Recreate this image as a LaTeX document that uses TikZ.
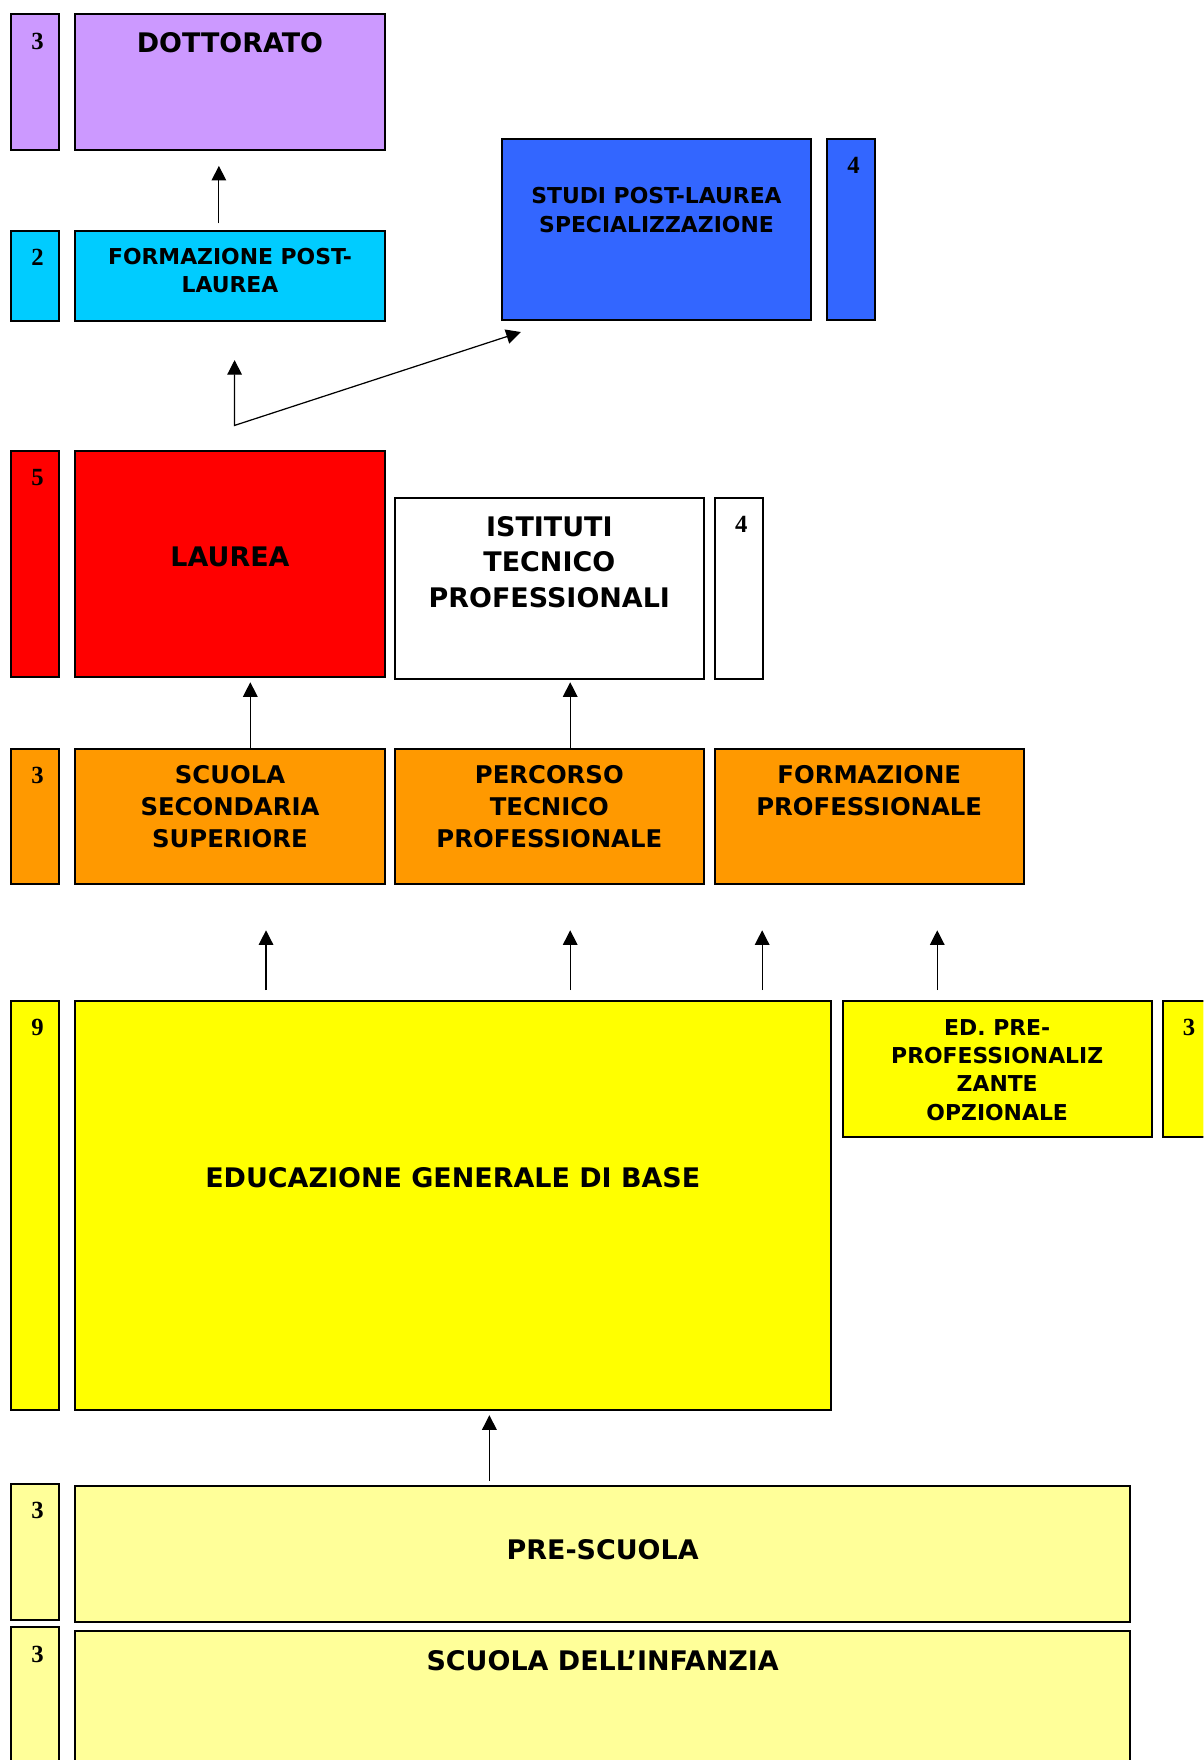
\documentclass[tikz,border=0pt]{standalone}
\usepackage{fontspec}
\setmainfont{DejaVu Sans}
\newfontfamily\numfont{Liberation Serif}
\usetikzlibrary{arrows.meta}

\begin{document}
\begin{tikzpicture}[x=1pt, y=-1pt,
    >={Triangle[length=13pt, width=13pt]},
    box/.style={draw=black, line width=1.8pt, anchor=north west, inner sep=0pt},
    years/.style={box, minimum width=43, minimum height=#1},
    bigtxt/.style={anchor=north, inner sep=0pt, align=center, font=\bfseries\fontsize{24}{31.5}\selectfont},
    midtxt/.style={bigtxt, font=\bfseries\fontsize{21.7}{28.2}\selectfont},
    smalltxt/.style={bigtxt, font=\bfseries\fontsize{19.5}{25.2}\selectfont},
    numtxt/.style={anchor=north, inner sep=0pt, xshift=2pt, yshift=-17pt, font=\numfont\bfseries\fontsize{22}{22}\selectfont},
    arr/.style={->, line width=1.1pt}
]

    % Colors for the boxes
    \definecolor{lilac}{RGB}{204,153,255}
    \definecolor{turquoise}{RGB}{0,204,255}
    \definecolor{royalblue}{RGB}{51,102,255}
    \definecolor{laureared}{RGB}{255,0,0}
    \definecolor{sunorange}{RGB}{255,153,0}
    \definecolor{brightyellow}{RGB}{255,255,0}
    \definecolor{paleyellow}{RGB}{255,255,153}

    \useasboundingbox (0,0) rectangle (1072,1568);
    \clip (0,0) rectangle (1072,1568);
    \fill[white] (0,0) rectangle (1072,1568);

    % DOTTORATO
    \node[years=121, fill=lilac, label={[numtxt]north:3}] (dottoratoanni) at (9,12) {};
    \node[box, fill=lilac, minimum width=276, minimum height=121,
        label={[bigtxt, yshift=-17pt]north:DOTTORATO}] (dottorato) at (66,12) {};

    % FORMAZIONE POST-LAUREA
    \node[years=80, fill=turquoise, label={[numtxt]north:2}] (formazioneanni) at (9,205) {};
    \node[box, fill=turquoise, minimum width=276, minimum height=80,
        label={[smalltxt, yshift=-16pt]north:FORMAZIONE POST-\\LAUREA}] (formazione) at (66,205) {};

    % STUDI POST-LAUREA
    \node[box, fill=royalblue, minimum width=276, minimum height=161,
        label={[smalltxt, yshift=-44pt]north:STUDI POST-LAUREA\\SPECIALIZZAZIONE}] (studi) at (446,123) {};
    \node[years=161, fill=royalblue, label={[numtxt]north:4}] (studianni) at (736,123) {};

    % LAUREA
    \node[years=201, fill=laureared, label={[numtxt]north:5}] (laureaanni) at (9,401) {};
    \node[box, fill=laureared, minimum width=276, minimum height=201,
        label={[bigtxt, yshift=-86pt]north:LAUREA}] (laurea) at (66,401) {};

    % ISTITUTI TECNICO PROFESSIONALI
    \node[box, fill=white, minimum width=275, minimum height=161,
        label={[bigtxt, yshift=-17pt]north:ISTITUTI\\TECNICO\\PROFESSIONALI}] (istituti) at (351,443) {};
    \node[years=161, fill=white, label={[numtxt]north:4}] (istitutianni) at (636,443) {};

    % Secondo ciclo
    \node[years=121, fill=sunorange, label={[numtxt]north:3}] (secondariaanni) at (9,666) {};
    \node[box, fill=sunorange, minimum width=276, minimum height=121,
        label={[midtxt, yshift=-16pt]north:SCUOLA\\SECONDARIA\\SUPERIORE}] (secondaria) at (66,666) {};
    \node[box, fill=sunorange, minimum width=275, minimum height=121,
        label={[midtxt, yshift=-16pt]north:PERCORSO\\TECNICO\\PROFESSIONALE}] (percorso) at (351,666) {};
    \node[box, fill=sunorange, minimum width=275, minimum height=121,
        label={[midtxt, yshift=-16pt]north:FORMAZIONE\\PROFESSIONALE}] (formprof) at (636,666) {};

    % EDUCAZIONE GENERALE DI BASE
    \node[years=364, fill=brightyellow, label={[numtxt]north:9}] (eduanni) at (9,891) {};
    \node[box, fill=brightyellow, minimum width=673, minimum height=364,
        label={[bigtxt, yshift=-149pt]north:EDUCAZIONE GENERALE DI BASE}] (edu) at (66,891) {};
    \node[box, fill=brightyellow, minimum width=275, minimum height=121,
        label={[smalltxt, yshift=-17pt]north:ED. PRE-\\PROFESSIONALIZ\\ZANTE\\OPZIONALE}] (edpre) at (750,891) {};
    \node[years=121, fill=brightyellow, label={[numtxt]north:3}] (edpreanni) at (1035,891) {};

    % PRE-SCUOLA
    \node[years=121, fill=paleyellow, label={[numtxt]north:3}] (prescuolaanni) at (9,1321) {};
    \node[box, fill=paleyellow, minimum width=940, minimum height=121,
        label={[bigtxt, yshift=-48pt]north:PRE-SCUOLA}] (prescuola) at (66,1323) {};

    % SCUOLA DELL'INFANZIA
    \node[years=150, fill=paleyellow, label={[numtxt]north:3}] (infanziaanni) at (9,1449) {};
    \node[box, fill=paleyellow, minimum width=940, minimum height=150,
        label={[bigtxt, yshift=-18pt]north:SCUOLA DELL’INFANZIA}] (infanzia) at (66,1452) {};

    % Arrows
    \draw[arr, shorten <=6pt, shorten >=13pt] ([xshift=129]formazione.north west) -- ([xshift=129]dottorato.south west);
    \coordinate (bivio) at (209,379);
    \draw[arr, <->, shorten <=34pt] ([xshift=143]formazione.south west) -- (bivio) -- ([shift={(18,10)}]studi.south west);
    \draw[arr, shorten >=4pt] ([xshift=157]secondaria.north west) -- ([xshift=157]laurea.south west);
    \draw[arr, shorten >=2pt] ([xshift=157]percorso.north west) -- ([xshift=157]istituti.south west);
    \draw[arr, shorten <=9pt, shorten >=40pt] ([xshift=171]edu.north west) -- ([xshift=171]secondaria.south west);
    \draw[arr, shorten <=9pt, shorten >=40pt] ([xshift=442]edu.north west) -- ([xshift=157]percorso.south west);
    \draw[arr, shorten <=9pt, shorten >=40pt] ([xshift=613]edu.north west) -- ([xshift=43]formprof.south west);
    \draw[arr, shorten <=9pt, shorten >=40pt] ([xshift=85]edpre.north west) -- ([xshift=199]formprof.south west);
    \draw[arr, shorten <=4pt, shorten >=4pt] ([xshift=370]prescuola.north west) -- ([xshift=370]edu.south west);

\end{tikzpicture}
\end{document}
